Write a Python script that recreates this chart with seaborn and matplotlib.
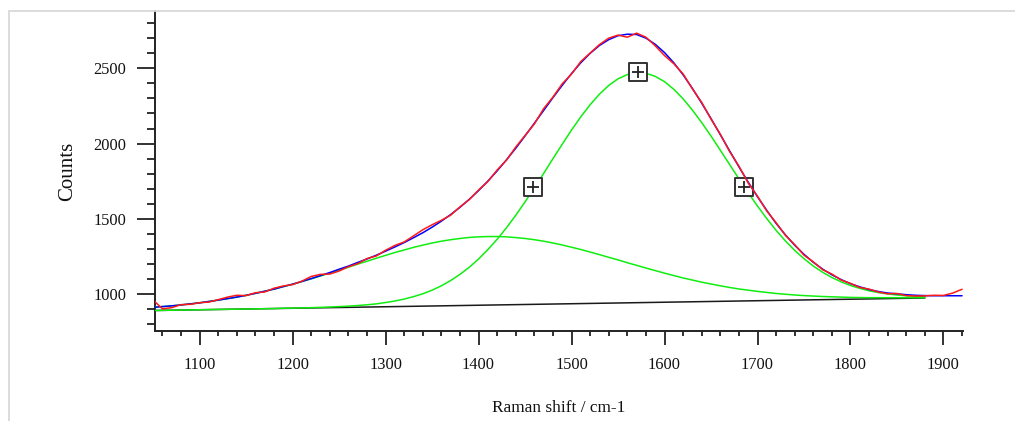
import numpy as np
import pandas as pd
import matplotlib
matplotlib.use("Agg")
import matplotlib.pyplot as plt
from matplotlib.lines import Line2D
import seaborn as sns

# ---------------- data ----------------
shift = [1050, 1060, 1070, 1080, 1090, 1100, 1110, 1120, 1130, 1140,
         1150, 1160, 1170, 1180, 1190, 1200, 1210, 1220, 1230, 1240,
         1250, 1260, 1270, 1280, 1290, 1300, 1310, 1320, 1330, 1340,
         1350, 1360, 1370, 1380, 1390, 1400, 1410, 1420, 1430, 1440,
         1450, 1460, 1470, 1480, 1490, 1500, 1510, 1520, 1530, 1540,
         1550, 1560, 1570, 1580, 1590, 1600, 1610, 1620, 1630, 1640,
         1650, 1660, 1670, 1680, 1690, 1700, 1710, 1720, 1730, 1740,
         1750, 1760, 1770, 1780, 1790, 1800, 1810, 1820, 1830, 1840,
         1850, 1860, 1870, 1880, 1890, 1900, 1910, 1920]

measured = [962, 903, 911, 931, 933, 944, 948, 964, 981, 993,
            991, 1010, 1015, 1040, 1055, 1064, 1087, 1118, 1132, 1134,
            1154, 1183, 1203, 1237, 1254, 1292, 1324, 1347, 1387, 1428,
            1461, 1491, 1525, 1580, 1628, 1692, 1748, 1825, 1890, 1977,
            2054, 2130, 2232, 2309, 2397, 2462, 2545, 2601, 2657, 2700,
            2720, 2706, 2733, 2706, 2649, 2584, 2530, 2462, 2363, 2273,
            2162, 2062, 1947, 1850, 1738, 1650, 1552, 1475, 1391, 1329,
            1259, 1215, 1163, 1134, 1094, 1072, 1045, 1034, 1015, 1003,
            1005, 991, 988, 989, 993, 992, 1008, 1033]

fit_total = [913, 918, 923, 929, 936, 943, 952, 961, 971, 981,
             993, 1006, 1020, 1034, 1051, 1067, 1085, 1104, 1124, 1144,
             1166, 1187, 1211, 1234, 1259, 1286, 1314, 1343, 1375, 1408,
             1445, 1485, 1529, 1577, 1630, 1688, 1751, 1819, 1892, 1969,
             2051, 2135, 2220, 2305, 2387, 2465, 2537, 2599, 2651, 2690,
             2716, 2726, 2724, 2700, 2659, 2604, 2536, 2456, 2366, 2268,
             2166, 2059, 1952, 1846, 1744, 1647, 1556, 1470, 1394, 1325,
             1265, 1212, 1167, 1129, 1097, 1070, 1049, 1031, 1018, 1008,
             1003, 997, 993, 991, 990, 990, 990, 990]

comp_shift = shift[:84]   # components end at 1880

band_D = [913, 918, 923, 929, 936, 943, 952, 961, 971, 981,
          993, 1006, 1020, 1034, 1050, 1066, 1084, 1102, 1121, 1140,
          1160, 1179, 1200, 1219, 1239, 1258, 1277, 1294, 1311, 1326,
          1340, 1352, 1362, 1370, 1377, 1381, 1383, 1383, 1381, 1376,
          1370, 1362, 1352, 1340, 1327, 1312, 1297, 1280, 1263, 1245,
          1228, 1209, 1192, 1174, 1157, 1140, 1124, 1108, 1094, 1080,
          1068, 1056, 1045, 1035, 1027, 1019, 1012, 1005, 1000, 995,
          991, 988, 985, 983, 981, 979, 978, 977, 977, 977,
          977, 977, 977, 977]

band_G = [892, 893, 894, 895, 896, 897, 898, 899, 900, 901,
          902, 903, 904, 905, 907, 908, 909, 911, 913, 915,
          918, 921, 925, 930, 936, 945, 955, 968, 984, 1003,
          1027, 1056, 1091, 1132, 1179, 1234, 1296, 1365, 1441, 1524,
          1613, 1706, 1802, 1900, 1996, 2090, 2178, 2258, 2328, 2386,
          2430, 2458, 2471, 2467, 2446, 2411, 2360, 2297, 2222, 2139,
          2050, 1956, 1861, 1766, 1673, 1585, 1502, 1424, 1354, 1291,
          1236, 1187, 1146, 1111, 1082, 1058, 1039, 1023, 1011, 1002,
          995, 990, 986, 984]

baseline_shift = [1050, 1880]
baseline = [892, 975]

marker_shift = [1458, 1572, 1685]
marker_counts = [1712, 2477, 1712]

x_major = [1100, 1200, 1300, 1400, 1500, 1600, 1700, 1800, 1900]
y_major = [1000, 1500, 2000, 2500]

# ---------------- style ----------------
sns.set_theme(style="white")
plt.rcParams["font.family"] = ["Liberation Serif", "DejaVu Serif"]

W, H = 1015, 421
fig = plt.figure(figsize=(W / 100, H / 100), dpi=100)
ax = fig.add_axes([155 / W, 1 - 331 / H, (963 - 155) / W, (331 - 11) / H])

green = "#10ee10"
sns.lineplot(x=baseline_shift, y=baseline, color="#1a1a1a", lw=1.1, ax=ax,
             estimator=None, sort=False, zorder=2)
sns.lineplot(x=comp_shift, y=band_D, color=green, lw=1.1, ax=ax,
             estimator=None, sort=False, zorder=3)
sns.lineplot(x=comp_shift, y=band_G, color=green, lw=1.1, ax=ax,
             estimator=None, sort=False, zorder=3)
sns.scatterplot(x=marker_shift, y=marker_counts, marker="s", s=185,
                color="white", edgecolor="#333333", linewidth=1.4, ax=ax,
                zorder=4)
sns.scatterplot(x=marker_shift, y=marker_counts, marker="+", s=85,
                color="#222222", linewidth=1.3, ax=ax, zorder=4.5)
sns.lineplot(x=shift, y=fit_total, color="#0000ff", lw=1.1, ax=ax,
             estimator=None, sort=False, zorder=5)
sns.lineplot(x=shift, y=measured, color="#ff1a1a", lw=1.1, ax=ax,
             estimator=None, sort=False, zorder=6)

ax.set_xlim(1052, 1921)
ax.set_ylim(756, 2880)

ax.set_xticks(x_major)
ax.set_xticks(np.arange(1060, 1921, 20), minor=True)
ax.set_yticks(y_major)
ax.set_yticks(np.arange(800, 2801, 100), minor=True)

for s in ["top", "right"]:
    ax.spines[s].set_visible(False)
for s in ["left", "bottom"]:
    ax.spines[s].set_color("#222222")
    ax.spines[s].set_linewidth(1.4)

ax.tick_params(axis="y", which="major", direction="out", length=13, width=1.3,
               color="#222222", pad=7.5, labelsize=11.8, labelcolor="#111111",
               left=True)
ax.tick_params(axis="y", which="minor", direction="out", length=5.8, width=1.3,
               color="#222222", left=True)
ax.tick_params(axis="x", which="major", direction="out", length=10, width=1.3,
               color="#222222", pad=9, labelsize=11.8, labelcolor="#111111",
               bottom=True)
ax.tick_params(axis="x", which="minor", direction="out", length=3.6, width=1.3,
               color="#222222", bottom=True)

ax.set_xlabel("Raman shift / cm-1", fontsize=12.4, labelpad=19, color="#111111")
ax.set_ylabel("Counts", fontsize=15, labelpad=12, color="#111111")

# light grey figure frame (left and top edges)
fig.add_artist(Line2D([8.5 / W, 8.5 / W], [0, 1 - 10.5 / H],
                      transform=fig.transFigure, color="#d9d9d9", lw=1.3))
fig.add_artist(Line2D([8.5 / W, 1], [1 - 10.5 / H, 1 - 10.5 / H],
                      transform=fig.transFigure, color="#d9d9d9", lw=1.3))

fig.savefig("out.png", dpi=100, facecolor="white")
